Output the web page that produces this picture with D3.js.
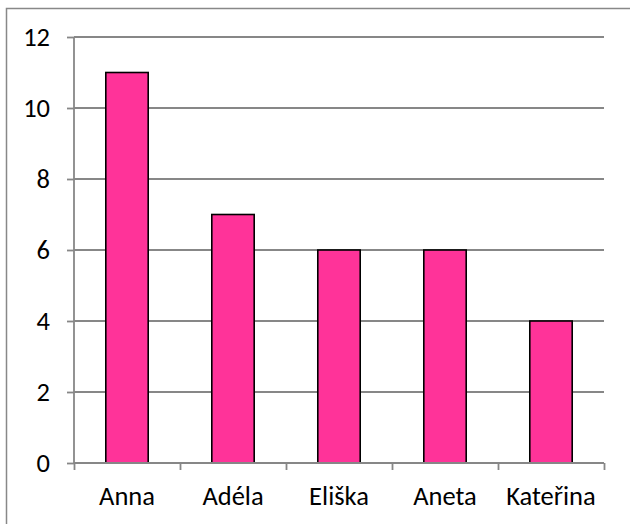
<!DOCTYPE html>
<html>
<head>
<meta charset="utf-8">
<script src="https://cdn.jsdelivr.net/npm/d3@7"></script>
<style>
  body { margin: 0; background: #fff; }
  svg { display: block; }
  text { font-family: Carlito, "Noto Sans", sans-serif; fill: #000; }
</style>
</head>
<body>
<div id="chart"></div>
<script>
// data
var names = ["Anna", "Adéla", "Eliška", "Aneta", "Kateřina"];
var counts = [11, 7, 6, 6, 4];
var yTicks = [0, 2, 4, 6, 8, 10, 12];

var width = 630;
var height = 524;
var plot = { left: 74, right: 604, top: 37, bottom: 463 };
var fontSize = "26.5px";

var svg = d3.select("#chart").append("svg")
    .attr("width", width)
    .attr("height", height);

// outer chart frame (right and bottom run off the page)
svg.append("path")
    .attr("d", "M6.5," + (height + 5) + "V8.5H" + (width + 5))
    .attr("fill", "none")
    .attr("stroke", "#888")
    .attr("stroke-width", 1.5);

var x = d3.scaleBand()
    .domain(names)
    .range([plot.left, plot.right])
    .paddingInner(0.6)
    .paddingOuter(0.3);

var xEdge = d3.scaleLinear()
    .domain([0, names.length])
    .range([plot.left, plot.right]);

var y = d3.scaleLinear()
    .domain([0, 12])
    .range([plot.bottom, plot.top]);

// gridlines
svg.append("g")
  .selectAll("line")
  .data(yTicks.filter(function(d) { return d > 0; }))
  .enter().append("line")
    .attr("x1", plot.left)
    .attr("x2", plot.right)
    .attr("y1", function(d) { return y(d); })
    .attr("y2", function(d) { return y(d); })
    .attr("stroke", "#878787")
    .attr("stroke-width", 1.8);

// y axis
var yAxis = svg.append("g")
    .attr("transform", "translate(" + plot.left + ",0)")
    .call(d3.axisLeft(y).tickValues(yTicks).tickSize(7).tickPadding(17).tickFormat(d3.format("d")));
yAxis.selectAll("line, path").attr("stroke", "#878787").attr("stroke-width", 1.8);
yAxis.select(".domain").attr("d", "M0," + plot.top + "V" + plot.bottom);
yAxis.selectAll("text")
    .style("font-family", 'Carlito, "Noto Sans", sans-serif')
    .style("font-size", fontSize)
    .attr("fill", "#000");

// bars
svg.append("g")
  .selectAll("rect")
  .data(counts)
  .enter().append("rect")
    .attr("x", function(d, i) { return x(names[i]); })
    .attr("width", x.bandwidth())
    .attr("y", function(d) { return y(d); })
    .attr("height", function(d) { return y(0) - y(d); })
    .attr("fill", "#ff3399")
    .attr("stroke", "#000")
    .attr("stroke-width", 1.6);

// x axis: ticks between categories, labels under the bars
var xAxis = svg.append("g")
    .attr("transform", "translate(0," + plot.bottom + ")")
    .call(d3.axisBottom(xEdge).tickValues(d3.range(names.length + 1)).tickSize(7).tickFormat(""));
xAxis.selectAll("line, path").attr("stroke", "#878787").attr("stroke-width", 1.8);
xAxis.select(".domain").attr("d", "M" + plot.left + ",0H" + plot.right);

svg.append("g")
  .selectAll("text")
  .data(names)
  .enter().append("text")
    .attr("x", function(d) { return x(d) + x.bandwidth() / 2; })
    .attr("y", 505)
    .attr("text-anchor", "middle")
    .style("font-size", fontSize)
    .text(function(d) { return d; });
</script>
</body>
</html>
